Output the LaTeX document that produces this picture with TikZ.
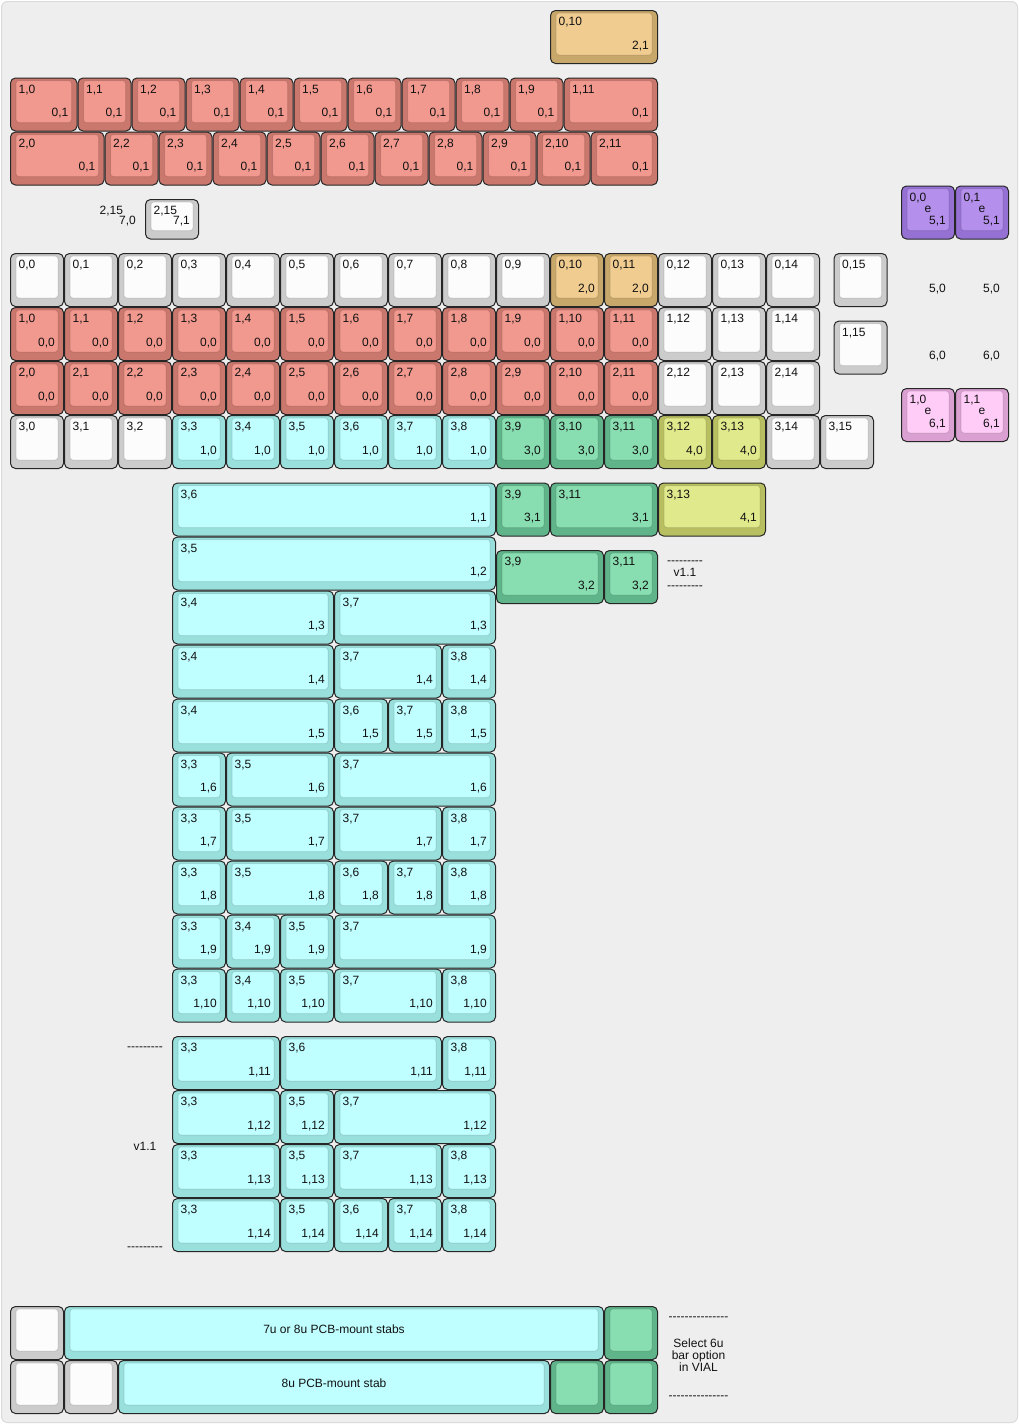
\documentclass[tikz,border=0pt]{standalone}
\usepackage{fontspec}
\newfontfamily\kf{Liberation Sans}
\definecolor{greyo}{HTML}{CCCCCC}\definecolor{greyi}{HTML}{FCFCFC}
\definecolor{redo}{HTML}{CA786E}\definecolor{redi}{HTML}{F2998F}
\definecolor{tano}{HTML}{C8A76A}\definecolor{tani}{HTML}{F0CC91}
\definecolor{cyano}{HTML}{99E0DC}\definecolor{cyani}{HTML}{C0FFFF}
\definecolor{greeno}{HTML}{60B48A}\definecolor{greeni}{HTML}{88DEB0}
\definecolor{yelo}{HTML}{B8BF61}\definecolor{yeli}{HTML}{E0E98B}
\definecolor{purpo}{HTML}{9471D3}\definecolor{purpi}{HTML}{B48FEB}
\definecolor{pinko}{HTML}{D9A0D1}\definecolor{pinki}{HTML}{FFCCF8}
\definecolor{bgc}{HTML}{EEEEEE}
\definecolor{txt}{HTML}{111111}
\tikzset{
 keyout/.style={draw=black!85, line width=1pt, rounded corners=5pt},
 keyin/.style={draw=black, draw opacity=0.1, line width=1pt, rounded corners=3pt},
 lab/.style={inner sep=0pt, text=txt, font=\kf\fontsize{12}{14}\selectfont},
 tl/.style={lab, anchor=base west},
 br/.style={lab, anchor=base east},
 ctr/.style={lab, anchor=base},
}
\newcounter{kc}
\newcommand\keybody[5]{%
 \stepcounter{kc}%
 \pgfmathsetmacro\KX{10+54*(#1)}%
 \pgfmathsetmacro\KY{10+54*(#2)}%
 \pgfmathsetmacro\KW{54*(#3)}%
 \pgfmathsetmacro\KH{54*(#4)}%
 \path[keyout,fill=#5o] (\KX+0.5,\KY+0.5) rectangle ++(\KW-1,\KH-1);
 \path[keyin,fill=#5i] (\KX+6,\KY+3) rectangle (\KX+\KW-6,\KY+\KH-9);
}
% x y w h colour toplabel bottomlabel
\newcommand\kk[7]{%
 \keybody{#1}{#2}{#3}{#4}{#5}%
 \ifx&#6&\else\node[tl] (k\arabic{kc}t) at (\KX+8.5,\KY+15.5) {#6};\fi
 \ifx&#7&\else\node[br] (k\arabic{kc}b) at (\KX+\KW-9,\KY+\KH-15) {#7};\fi
}
% x y w h colour centrelabel
\newcommand\kc[6]{%
 \keybody{#1}{#2}{#3}{#4}{#5}%
 \node[ctr] (k\arabic{kc}c) at (\KX+\KW/2,\KY+27) {#6};
}
\def\hy{\hbox{-}}
\begin{document}
\begin{tikzpicture}[x=1pt,y=-1pt]
\useasboundingbox (0,0) rectangle (1019,1424);
\fill[white] (0,0) rectangle (1019,1424);
\draw[fill=bgc, draw=black!14, line width=1pt, rounded corners=6pt] (1.5,1.5) rectangle (1017.5,1422.5);

% top block
\kk{10}{0}{2}{1}{tan}{0,10}{2,1}
\kk{0}{1.25}{1.25}{1}{red}{1,0}{0,1}
\foreach \i in {1,...,9}{\kk{\i+0.25}{1.25}{1}{1}{red}{1,\i}{0,1}}
\kk{10.25}{1.25}{1.75}{1}{red}{1,11}{0,1}
\kk{0}{2.25}{1.75}{1}{red}{2,0}{0,1}
\foreach \i in {2,...,10}{\kk{\i-0.25}{2.25}{1}{1}{red}{2,\i}{0,1}}
\kk{10.75}{2.25}{1.25}{1}{red}{2,11}{0,1}

% 2,15
\node[tl] (d215t) at (99.5,214.5) {2,15};
\node[br] (d215b) at (136,224.5) {7,0};
\kk{2.5}{3.5}{1}{0.75}{grey}{2,15}{7,1}

% right side
\kk{16.5}{3.25}{1}{1}{purp}{0,0}{5,1}
\node[ctr] (pe0) at (928,212.5) {e};
\kk{17.5}{3.25}{1}{1}{purp}{0,1}{5,1}
\node[ctr] (pe1) at (982,212.5) {e};
\node[br] (d50a) at (946,292) {5,0};
\node[br] (d50b) at (1000,292) {5,0};
\node[br] (d60a) at (946,359.5) {6,0};
\node[br] (d60b) at (1000,359.5) {6,0};
\kk{16.5}{7}{1}{1}{pink}{1,0}{6,1}
\node[ctr] (ke0) at (928,414.5) {e};
\kk{17.5}{7}{1}{1}{pink}{1,1}{6,1}
\node[ctr] (ke1) at (982,414.5) {e};

% main block
\foreach \i in {0,...,9}{\kk{\i}{4.5}{1}{1}{grey}{0,\i}{}}
\kk{10}{4.5}{1}{1}{tan}{0,10}{2,0}
\kk{11}{4.5}{1}{1}{tan}{0,11}{2,0}
\foreach \i in {12,13,14}{\kk{\i}{4.5}{1}{1}{grey}{0,\i}{}}
\kk{15.25}{4.5}{1}{1}{grey}{0,15}{}
\foreach \i in {0,...,11}{\kk{\i}{5.5}{1}{1}{red}{1,\i}{0,0}}
\foreach \i in {12,13,14}{\kk{\i}{5.5}{1}{1}{grey}{1,\i}{}}
\kk{15.25}{5.75}{1}{1}{grey}{1,15}{}
\foreach \i in {0,...,11}{\kk{\i}{6.5}{1}{1}{red}{2,\i}{0,0}}
\foreach \i in {12,13,14}{\kk{\i}{6.5}{1}{1}{grey}{2,\i}{}}
\foreach \i in {0,1,2}{\kk{\i}{7.5}{1}{1}{grey}{3,\i}{}}
\foreach \i in {3,...,8}{\kk{\i}{7.5}{1}{1}{cyan}{3,\i}{1,0}}
\foreach \i in {9,10,11}{\kk{\i}{7.5}{1}{1}{green}{3,\i}{3,0}}
\foreach \i in {12,13}{\kk{\i}{7.5}{1}{1}{yel}{3,\i}{4,0}}
\foreach \i in {14,15}{\kk{\i}{7.5}{1}{1}{grey}{3,\i}{}}

% lower block
\kk{3}{8.75}{6}{1}{cyan}{3,6}{1,1}
\kk{9}{8.75}{1}{1}{green}{3,9}{3,1}
\kk{10}{8.75}{2}{1}{green}{3,11}{3,1}
\kk{12}{8.75}{2}{1}{yel}{3,13}{4,1}
\kk{3}{9.75}{6}{1}{cyan}{3,5}{1,2}
\kk{9}{10}{2}{1}{green}{3,9}{3,2}
\kk{11}{10}{1}{1}{green}{3,11}{3,2}
\node[ctr] (va1) at (685,564) {\hy\hy\hy\hy\hy\hy\hy\hy\hy};
\node[ctr] (va2) at (685,576.7) {v1.1};
\node[ctr] (va3) at (685,589) {\hy\hy\hy\hy\hy\hy\hy\hy\hy};

\kk{3}{10.75}{3}{1}{cyan}{3,4}{1,3}
\kk{6}{10.75}{3}{1}{cyan}{3,7}{1,3}

\kk{3}{11.75}{3}{1}{cyan}{3,4}{1,4}
\kk{6}{11.75}{2}{1}{cyan}{3,7}{1,4}
\kk{8}{11.75}{1}{1}{cyan}{3,8}{1,4}

\kk{3}{12.75}{3}{1}{cyan}{3,4}{1,5}
\kk{6}{12.75}{1}{1}{cyan}{3,6}{1,5}
\kk{7}{12.75}{1}{1}{cyan}{3,7}{1,5}
\kk{8}{12.75}{1}{1}{cyan}{3,8}{1,5}

\kk{3}{13.75}{1}{1}{cyan}{3,3}{1,6}
\kk{4}{13.75}{2}{1}{cyan}{3,5}{1,6}
\kk{6}{13.75}{3}{1}{cyan}{3,7}{1,6}

\kk{3}{14.75}{1}{1}{cyan}{3,3}{1,7}
\kk{4}{14.75}{2}{1}{cyan}{3,5}{1,7}
\kk{6}{14.75}{2}{1}{cyan}{3,7}{1,7}
\kk{8}{14.75}{1}{1}{cyan}{3,8}{1,7}

\kk{3}{15.75}{1}{1}{cyan}{3,3}{1,8}
\kk{4}{15.75}{2}{1}{cyan}{3,5}{1,8}
\kk{6}{15.75}{1}{1}{cyan}{3,6}{1,8}
\kk{7}{15.75}{1}{1}{cyan}{3,7}{1,8}
\kk{8}{15.75}{1}{1}{cyan}{3,8}{1,8}

\kk{3}{16.75}{1}{1}{cyan}{3,3}{1,9}
\kk{4}{16.75}{1}{1}{cyan}{3,4}{1,9}
\kk{5}{16.75}{1}{1}{cyan}{3,5}{1,9}
\kk{6}{16.75}{3}{1}{cyan}{3,7}{1,9}

\kk{3}{17.75}{1}{1}{cyan}{3,3}{1,10}
\kk{4}{17.75}{1}{1}{cyan}{3,4}{1,10}
\kk{5}{17.75}{1}{1}{cyan}{3,5}{1,10}
\kk{6}{17.75}{2}{1}{cyan}{3,7}{1,10}
\kk{8}{17.75}{1}{1}{cyan}{3,8}{1,10}

\node[ctr] (vb1) at (145,1050) {\hy\hy\hy\hy\hy\hy\hy\hy\hy};
\node[ctr] (vb2) at (145,1150.7) {v1.1};
\node[ctr] (vb3) at (145,1250.6) {\hy\hy\hy\hy\hy\hy\hy\hy\hy};

\kk{3}{19}{2}{1}{cyan}{3,3}{1,11}
\kk{5}{19}{3}{1}{cyan}{3,6}{1,11}
\kk{8}{19}{1}{1}{cyan}{3,8}{1,11}

\kk{3}{20}{2}{1}{cyan}{3,3}{1,12}
\kk{5}{20}{1}{1}{cyan}{3,5}{1,12}
\kk{6}{20}{3}{1}{cyan}{3,7}{1,12}

\kk{3}{21}{2}{1}{cyan}{3,3}{1,13}
\kk{5}{21}{1}{1}{cyan}{3,5}{1,13}
\kk{6}{21}{2}{1}{cyan}{3,7}{1,13}
\kk{8}{21}{1}{1}{cyan}{3,8}{1,13}

\kk{3}{22}{2}{1}{cyan}{3,3}{1,14}
\kk{5}{22}{1}{1}{cyan}{3,5}{1,14}
\kk{6}{22}{1}{1}{cyan}{3,6}{1,14}
\kk{7}{22}{1}{1}{cyan}{3,7}{1,14}
\kk{8}{22}{1}{1}{cyan}{3,8}{1,14}

% bottom
\kk{0}{24}{1}{1}{grey}{}{}
\kc{1}{24}{10}{1}{cyan}{7u or 8u PCB-mount stabs}
\kk{11}{24}{1}{1}{green}{}{}
\kk{0}{25}{1}{1}{grey}{}{}
\kk{1}{25}{1}{1}{grey}{}{}
\kc{2}{25}{8}{1}{cyan}{8u PCB-mount stab}
\kk{10}{25}{1}{1}{green}{}{}
\kk{11}{25}{1}{1}{green}{}{}

\node[ctr] (s0) at (698.5,1320) {\hy\hy\hy\hy\hy\hy\hy\hy\hy\hy\hy\hy\hy\hy\hy};
\node[ctr] (s1) at (698.5,1347) {Select 6u};
\node[ctr] (s2) at (698.5,1359.3) {bar option};
\node[ctr] (s3) at (698.5,1371.6) {in VIAL};
\node[ctr] (s4) at (698.5,1399.5) {\hy\hy\hy\hy\hy\hy\hy\hy\hy\hy\hy\hy\hy\hy\hy};
\end{tikzpicture}
\end{document}
